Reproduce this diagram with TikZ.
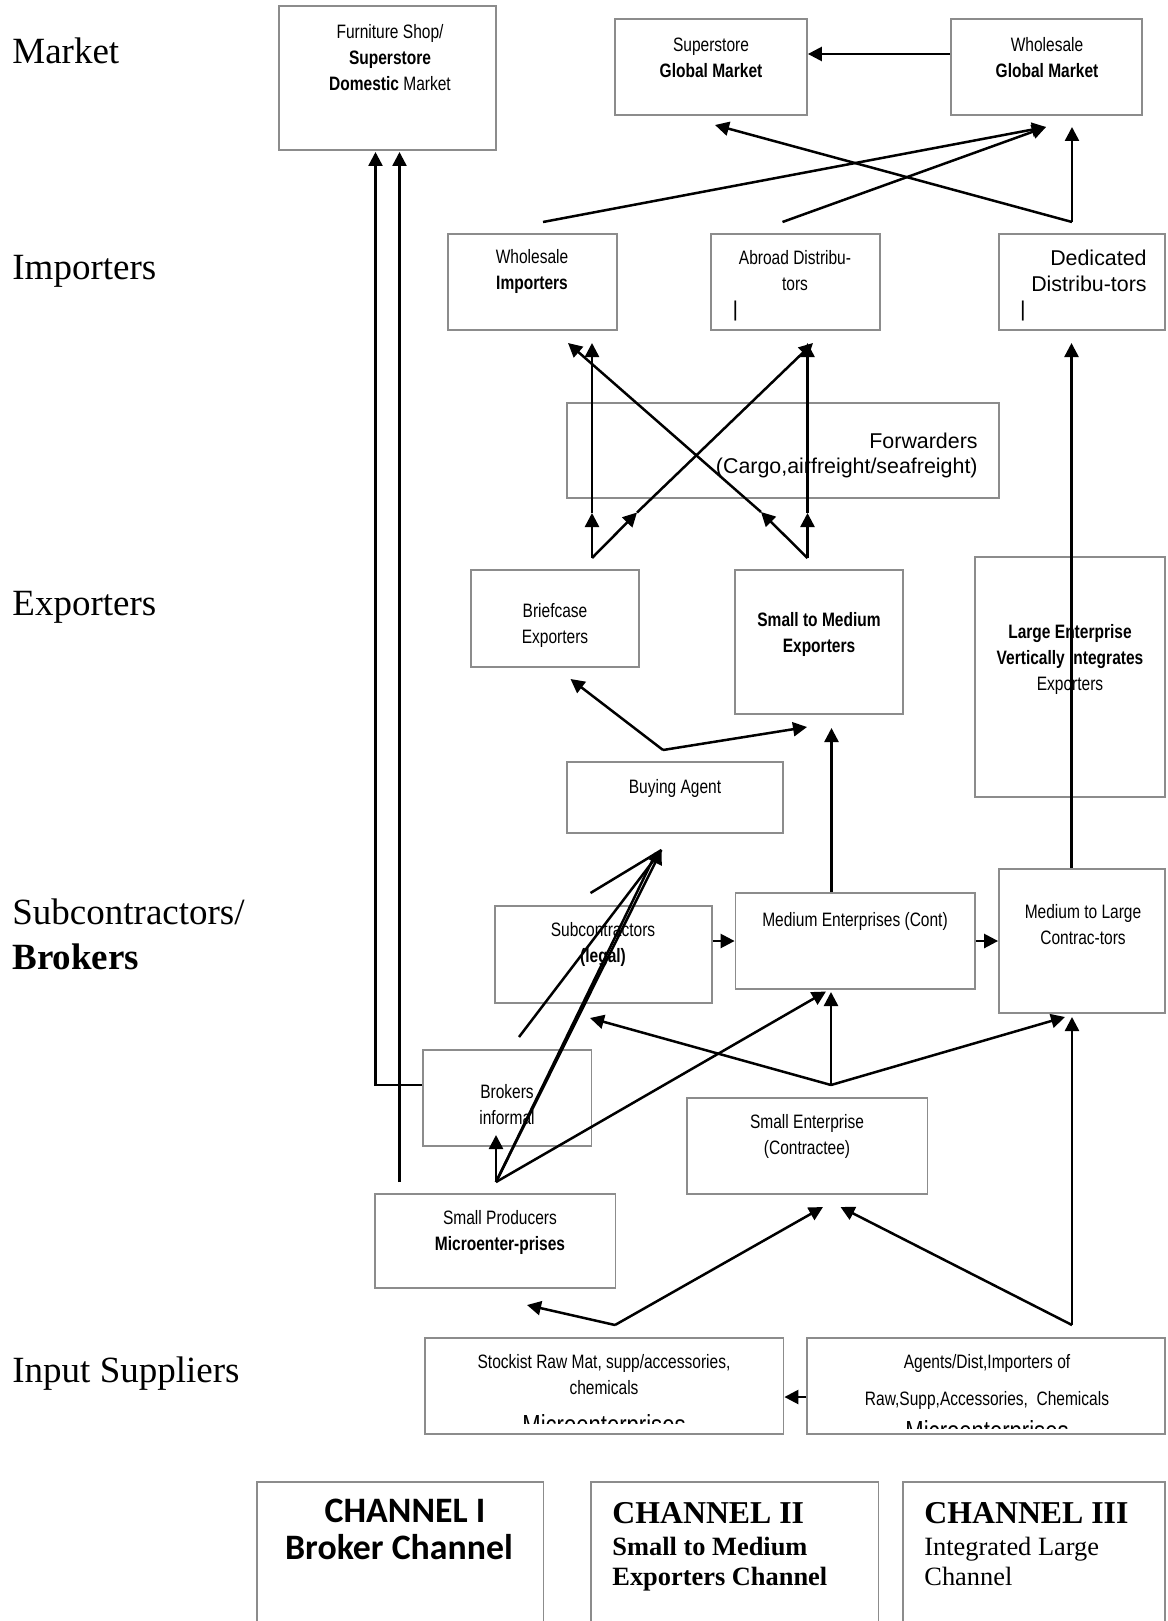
\documentclass[tikz,border=0pt]{standalone}
\usepackage{fontspec}
\setmainfont{Liberation Serif}
\newfontfamily\condfont[FakeStretch=0.8]{Liberation Sans}
\newfontfamily\arialfont{Liberation Sans}
\newfontfamily\chanfont{Carlito}
\usetikzlibrary{arrows.meta,fit}
\definecolor{boxgray}{RGB}{140,140,140}
\tikzset{
  box/.style={draw=boxgray, line width=0.9pt, inner sep=0pt, rectangle},
  txt/.style={font=\condfont\fontsize{9.7}{13}\selectfont, align=center, inner sep=0pt},
  bigtxt/.style={font=\condfont\fontsize{13.8}{16}\selectfont, inner sep=0pt, anchor=base},
  atxt/.style={font=\arialfont\fontsize{10.7}{12.8}\selectfont, align=right, inner sep=0pt, anchor=east},
  lbl/.style={font=\fontsize{18.5}{22}\selectfont, inner sep=0pt, anchor=base west},
  chone/.style={font=\chanfont\bfseries\fontsize{17.9}{20}\selectfont, inner sep=0pt, anchor=base},
  chhead/.style={font=\bfseries\fontsize{15.9}{18}\selectfont, inner sep=0pt, anchor=base west},
  chsub/.style={font=\fontsize{13.2}{15.5}\selectfont, inner sep=0pt, anchor=base west},
  ln/.style={line width=1.25pt, line join=miter},
  arr/.style={ln, -{Triangle[length=7pt,width=7pt]}},
}
\begin{document}
\begin{tikzpicture}[x=0.5pt, y=-0.5pt]
\useasboundingbox (0,0) rectangle (1167,1621);
\fill[white] (0,0) rectangle (1167,1621);
\clip (0,0) rectangle (1167,1621);

% ---- level labels ----
\node[lbl] (lmarket) at (12,64) {Market};
\node[lbl] (limp) at (12,279) {Importers};
\node[lbl] (lexp) at (12,615) {Exporters};
\node[lbl] (lsub) at (12,924) {Subcontractors/};
\node[lbl] (lbrk) at (12,969) {\textbf{Brokers}};
\node[lbl] (linp) at (12,1382) {Input Suppliers};

% ---- boxes ----
\node[box, fit={(279,6) (496,150)}] (furn) {};
\node[box, fit={(615,19) (807,115)}] (sgm) {};
\node[box, fit={(951,19) (1142,115)}] (wgm) {};
\node[box, fit={(448,234) (617,330)}] (wi) {};
\node[box, fit={(711,234) (880,330)}] (ad) {};
\node[box, fit={(999,234) (1165,330)}] (dd) {};
\node[box, fit={(567,403) (999,498)}] (fwd) {};
\node[box, fit={(471,570) (639,667)}] (bc) {};
\node[box, fit={(735,570) (903,714)}] (sme) {};
\node[box, fit={(975,557) (1165,797)}] (le) {};
\node[box, fit={(567,762) (783,833)}] (ba) {};
\node[box, fit={(495,906) (712,1003)}] (sub) {};
\node[box, fit={(735.5,893) (975,989)}] (me) {};
\node[box, fit={(999,869) (1165,1013)}] (mtl) {};
\node[box, fit={(423,1050) (591.5,1146)}] (brk) {};
\node[box, fit={(687,1098) (927.5,1194)}] (se) {};
\node[box, fit={(375,1194) (615.5,1288)}] (sp) {};
\node[box, fit={(425,1338) (783.5,1434)}] (sto) {};
\node[box, fit={(807,1338) (1165,1434)}] (agt) {};
\node[box, fit={(257,1482) (543.5,1650)}] (ch1) {};
\node[box, fit={(591,1482) (878.5,1650)}] (ch2) {};
\node[box, fit={(903,1482) (1165,1650)}] (ch3) {};

% ---- box texts ----
\node[txt] (furnT) at (390,57.5) {Furniture Shop/\\\textbf{Superstore}\\\textbf{Domestic} Market};
\node[txt] (sgmT) at (711,57.5) {Superstore\\\textbf{Global Market}};
\node[txt] (wgmT) at (1047,57.5) {Wholesale\\\textbf{Global Market}};
\node[txt] (wiT) at (532,271.5) {Wholesale\\\textbf{Importers}};
\node[txt] (adT) at (795,271) {Abroad Distribu-\\tors};
\node[atxt, align=center, anchor=center] (adBar) at (735.5,311) {|};
\node[atxt] (ddT) at (1147,271) {Dedicated\\Distribu-tors};
\node[atxt, align=center, anchor=center] (ddBar) at (1023,311) {|};
\node[atxt] (fwdT) at (978,455.5) {Forwarders\\(Cargo,airfreight/seafreight)};
\node[txt] (bcT) at (555,625) {Briefcase\\Exporters};
\node[txt] (smeT) at (819,634.5) {\textbf{Small to Medium}\\\textbf{Exporters}};
\node[txt] (leT) at (1070,659.7) {\textbf{Large Enterprise}\\\textbf{Vertically Integrates}\\Exporters};
\node[txt] (baT) at (675,788.3) {Buying Agent};
\node[txt] (subT) at (603,945) {Subcontractors\\\textbf{(legal)}};
\node[txt] (meT) at (855,921.7) {Medium Enterprises (Cont)};
\node[txt] (mtlT) at (1083,925) {Medium to Large\\Contrac-tors};
\node[txt] (brkT) at (507,1105) {Brokers\\informal};
\node[txt] (seT) at (807,1136.3) {Small Enterprise\\(Contractee)};
\node[txt] (spT) at (500,1232.5) {Small Producers\\\textbf{Microenter-prises}};
\node[txt] (stoT) at (604,1375) {Stockist Raw Mat, supp/accessories,\\chemicals};
\node[txt, font=\condfont\fontsize{9.7}{18.35}\selectfont] (agtT) at (987,1381.7)
  {Agents/Dist,Importers of\\Raw,Supp,Accessories,\ \ Chemicals};
\begin{scope}
  \clip (426,1339) rectangle (783,1423.5);
  \node[bigtxt] (stoT3) at (604,1434.5) {Microenterprises};
\end{scope}
\begin{scope}
  \clip (808,1339) rectangle (1164,1428);
  \node[bigtxt] (agtT3) at (987,1440) {Microenterprises};
\end{scope}

% ---- channel captions ----
\node[chone] (c1a) at (405,1522.5) {CHANNEL I};
\node[chone] (c1b) at (399,1559.5) {Broker Channel};
\node[chhead] (c2a) at (612,1523.5) {CHANNEL II};
\node[chsub] (c2b) at (612,1555.5) {\textbf{Small to Medium}};
\node[chsub] (c2c) at (612,1585.5) {\textbf{Exporters Channel}};
\node[chhead] (c3a) at (924,1523.5) {CHANNEL III};
\node[chsub] (c3b) at (924,1555.5) {Integrated Large};
\node[chsub] (c3c) at (924,1585.5) {Channel};

% ---- connector end points ----
\coordinate (rowTop) at (0,54);
\coordinate (wiOut) at (543,222);
\coordinate (adOut) at (782.5,222);
\coordinate (ddOut) at (1072,222);
\coordinate (wgmIn) at (1046,127);
\coordinate (wgmIn2) at (1072,127);
\coordinate (sgmIn) at (715,125);

\coordinate (bcOut) at (592,558);
\coordinate (bcMid) at (592,513);
\coordinate (wiIn) at (592,343);
\coordinate (bcDiag) at (637,512.5);
\coordinate (adIn) at (813,343);
\coordinate (smeOut) at (807.5,558);
\coordinate (smeMid) at (807.5,513);
\coordinate (adIn2) at (807.5,343);
\coordinate (smeDiag) at (761,512);
\coordinate (wiIn2) at (568,343);

\coordinate (baApex) at (663,750);
\coordinate (bcIn) at (570.5,679);
\coordinate (smeIn) at (807,727);
\coordinate (smeIn2) at (831.5,728);
\coordinate (ddIn) at (1071.5,343);

\coordinate (rowMid) at (0,941);
\coordinate (baIn) at (661.5,850);
\coordinate (baIn2) at (656,853);
\coordinate (subOut) at (590.5,893);
\coordinate (brkOut) at (519,1037);
\coordinate (spApex) at (496,1182);
\coordinate (brkIn) at (496,1135);
\coordinate (meIn) at (826,991.5);
\coordinate (seApex) at (831,1085);
\coordinate (meIn2) at (831,992);
\coordinate (subIn) at (590,1018);
\coordinate (mtlIn) at (1065,1017);
\coordinate (stoApex) at (615,1325);
\coordinate (spIn) at (527,1305);
\coordinate (seIn) at (823,1207);
\coordinate (agtApex) at (1072,1325);
\coordinate (seIn2) at (840.5,1207);
\coordinate (mtlIn2) at (1072,1017);
\coordinate (rowLow) at (0,1397);
\coordinate (bend) at (375.5,1085);
\coordinate (furnIn) at (375.5,152);
\coordinate (spLeft) at (399.5,1182);
\coordinate (furnIn2) at (399.5,152);

% ---- connectors ----
\draw[arr] (wgm.west |- rowTop) -- (sgm.east |- rowTop);
\draw[arr] (wiOut) -- (wgmIn);
\draw[arr] (adOut) -- (wgmIn);
\draw[arr] (ddOut) -- (sgmIn);
\draw[arr] (ddOut) -- (wgmIn2);

\draw[arr] (bcOut) -- (bcMid);
\draw[arr] (bcMid) -- (wiIn);
\draw[arr] (bcOut) -- (bcDiag);
\draw[arr] (bcDiag) -- (adIn);
\draw[arr] (smeOut) -- (smeMid);
\draw[arr] (smeMid) -- (adIn2);
\draw[arr] (smeOut) -- (smeDiag);
\draw[arr] (smeDiag) -- (wiIn2);

\draw[arr] (baApex) -- (bcIn);
\draw[arr] (baApex) -- (smeIn);
\draw[arr] (me.north -| smeIn2) -- (smeIn2);
\draw[arr] (mtl.north -| ddIn) -- (ddIn);

\draw[arr] (sub.east |- rowMid) -- (me.west |- rowMid);
\draw[arr] (me.east |- rowMid) -- (mtl.west |- rowMid);

\draw[ln] (subOut) -- (baIn);
\draw[ln] (brkOut) -- (baIn);
\draw[ln] (spApex) -- (baIn2);
\draw[arr] (spApex) -- (baIn);
\draw[arr] (spApex) -- (brkIn);
\draw[arr] (spApex) -- (meIn);

\draw[arr] (seApex) -- (meIn2);
\draw[arr] (seApex) -- (subIn);
\draw[arr] (seApex) -- (mtlIn);

\draw[arr] (stoApex) -- (spIn);
\draw[arr] (stoApex) -- (seIn);
\draw[arr] (agtApex) -- (seIn2);
\draw[arr] (agtApex) -- (mtlIn2);
\draw[arr] (agt.west |- rowLow) -- (sto.east |- rowLow);

\draw[arr] (brk.west |- bend) -- (bend) -- (furnIn);
\draw[arr] (spLeft) -- (furnIn2);
\end{tikzpicture}
\end{document}
